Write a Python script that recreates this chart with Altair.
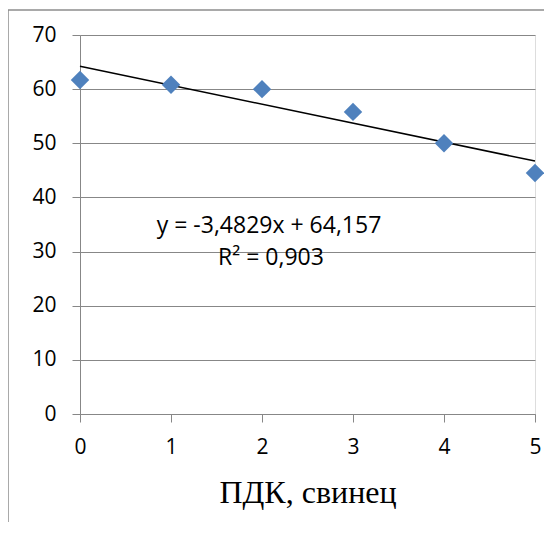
import altair as alt
import pandas as pd

x_vals = [0, 1, 2, 3, 4, 5]
y_vals = [61.7, 60.8, 60.0, 55.8, 50.0, 44.5]
eq_lines = ["y = -3,4829x + 64,157", "R² = 0,903"]
x_title = "ПДК, свинец"
y_ticks = [0, 10, 20, 30, 40, 50, 60, 70]
x_ticks = [0, 1, 2, 3, 4, 5]

df = pd.DataFrame({"x": x_vals, "y": y_vals})

W, H = 455, 379
GRID = "#878787"
FONT = "Open Sans"

xs = alt.X("x:Q", scale=alt.Scale(domain=[0, 5], nice=False),
           axis=alt.Axis(values=x_ticks, title=x_title, grid=False, format="d",
                         labelFlush=False,
                         tickSize=8, tickColor=GRID, domainColor=GRID,
                         labelFont=FONT, labelFontSize=21, labelColor="#000",
                         labelPadding=14, titleFont="Liberation Serif",
                         titleFontSize=32, titleFontWeight="normal",
                         titleColor="#000", titlePadding=20))
ys = alt.Y("y:Q", scale=alt.Scale(domain=[0, 70], nice=False),
           axis=alt.Axis(values=y_ticks, title=None, grid=True, gridColor=GRID,
                         gridOpacity=1, tickSize=8, tickColor=GRID, domainColor=GRID,
                         labelFont=FONT, labelFontSize=21, labelColor="#000",
                         labelPadding=16, format="d", labelFlush=False))

points = alt.Chart(df).mark_point(shape="diamond", filled=True, size=340,
                                  color="#4F81BD", opacity=1).encode(x=xs, y=ys)

trend = alt.Chart(df).transform_regression("x", "y", extent=[0, 5]).mark_line(
    color="#000", strokeWidth=1.5).encode(x=xs, y=ys)

eq1 = alt.Chart(pd.DataFrame({"t": [eq_lines[0]]})).mark_text(
    font=FONT, fontSize=23, color="#000", align="center", baseline="alphabetic"
).encode(text="t:N", x=alt.value(189), y=alt.value(198))
eq2 = alt.Chart(pd.DataFrame({"t": [eq_lines[1]]})).mark_text(
    font=FONT, fontSize=23, color="#000", align="center", baseline="alphabetic"
).encode(text="t:N", x=alt.value(191), y=alt.value(230))

border = alt.Chart(pd.DataFrame({"a": [0]})).mark_rule(color="#8c8c8c", strokeWidth=1.5)
border_top = border.encode(x=alt.value(-72), x2=alt.value(490), y=alt.value(-25))
border_left = border.encode(x=alt.value(-72), y=alt.value(-25), y2=alt.value(530))

chart = alt.layer(border_top, border_left, trend, points, eq1, eq2).properties(
    width=W, height=H,
    autosize=alt.AutoSizeParams(type="none"),
    padding={"left": 72, "top": 27, "right": 9, "bottom": 108},
).configure_view(stroke=None).configure(background="white")

chart.save("out.html", embed_options={"renderer": "svg", "actions": False})
